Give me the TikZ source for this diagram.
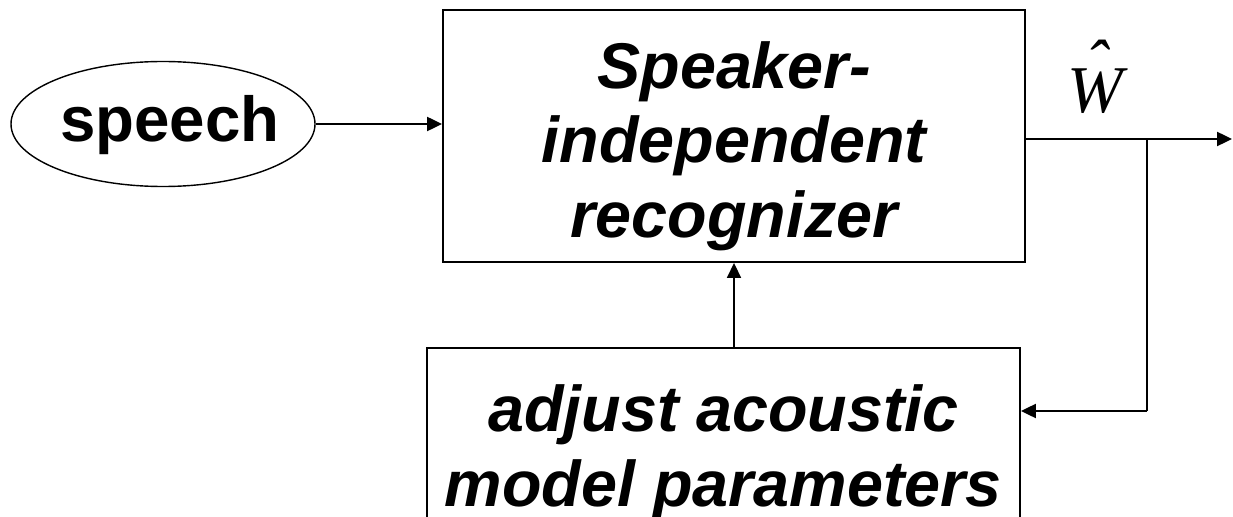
\documentclass[tikz,border=0pt]{standalone}
\usepackage{fontspec}
\setmainfont{Liberation Sans}
\newfontfamily\timesfont{Liberation Serif}
\usetikzlibrary{arrows.meta,positioning,shapes.geometric,calc}

\begin{document}
\begin{tikzpicture}[
  label/.style={font=\fontsize{36.8}{42.5}\selectfont\bfseries\itshape,align=center,inner sep=0pt},
  blockbox/.style={draw,line width=1.1pt,inner sep=0pt},
  src/.style={draw,ellipse,line width=0.8pt,inner sep=0pt,minimum width=6.08cm,minimum height=2.5cm},
  sig/.style={-{Triangle[length=8.5pt,width=8pt]},line width=1.1pt}]
  \clip (0,0) rectangle (24.66,-10.34);
  % Source and blocks
  \node[src] (speech) at (3.26,-2.48) {};
  \node[font=\fontsize{36.2}{43}\selectfont\bfseries,inner sep=0pt,anchor=base] (speechtext) at (3.40,-2.84) {speech};
  \node[blockbox,minimum width=11.64cm,minimum height=5.04cm] (recog) at (14.68,-2.72) {};
  \node[label] (recogtext) at ($(recog.center)+(0,-0.2)$) {Speaker-\\independent\\recognizer};
  \node[blockbox,minimum width=11.86cm,minimum height=4.2cm,anchor=north] (adjust) at (14.47,-6.94) {};
  \node[label] (adjusttext) at (14.47,-9.04) {adjust acoustic\\model parameters};
  % Output estimate
  \node[font=\fontsize{38}{38}\selectfont\timesfont\itshape,inner sep=0pt,anchor=base] (what) at (21.90,-2.26)
    {\rlap{\hspace{0.27em}\raisebox{0.4em}{ˆ}}W};
  \coordinate (out) at (24.64,-2.78);
  \coordinate (branch) at (22.94,-2.78);
  \coordinate (fb) at (22.94,-8.22);
  % Connections
  \draw[sig] (speech) -- (speech -| recog.west);
  \draw[sig] (recog.east |- out) -- (out);
  \draw[line width=1.1pt] (branch) -- (fb);
  \draw[sig] (fb) -- (fb -| adjust.east);
  \draw[sig,line width=0.8pt] (adjust.north -| recog.south) -- (recog.south);
\end{tikzpicture}
\end{document}
